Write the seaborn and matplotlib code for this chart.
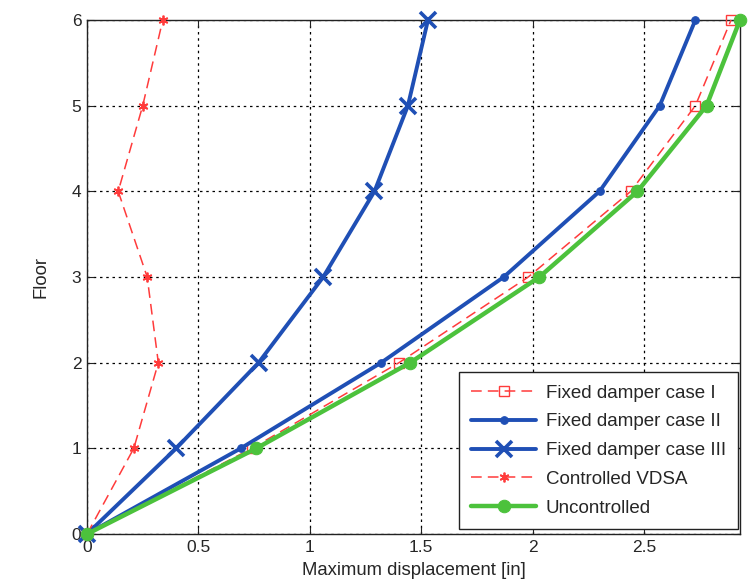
import matplotlib
matplotlib.use("Agg")
import matplotlib.pyplot as plt
import seaborn as sns
import pandas as pd

sns.set_style("white")
plt.rcParams['font.family'] = ['Liberation Sans', 'DejaVu Sans']

floors = [0, 1, 2, 3, 4, 5, 6]
case_I = [0, 0.74, 1.40, 1.98, 2.44, 2.73, 2.89]
case_II = [0, 0.69, 1.32, 1.87, 2.30, 2.57, 2.73]
case_III = [0, 0.40, 0.77, 1.06, 1.29, 1.44, 1.53]
vdsa = [0, 0.21, 0.32, 0.27, 0.14, 0.25, 0.34]
uncontrolled = [0, 0.76, 1.45, 2.03, 2.47, 2.78, 2.93]
x_ticks = [0, 0.5, 1, 1.5, 2, 2.5]
y_ticks = [0, 1, 2, 3, 4, 5, 6]

fig = plt.figure(figsize=(7.52, 5.88), dpi=100)
ax = fig.add_axes([0.1157, 0.0918, 0.8683, 0.8742])

red = '#ff3b3b'
blue = '#1f4fb5'
green = '#4cc23c'

series = [
    ("Fixed damper case I", case_I, dict(color=red, lw=1.1, dashes=(7, 4), marker='s', ms=7,
                                          mfc='none', mec=red, mew=1.0)),
    ("Fixed damper case II", case_II, dict(color=blue, lw=2.8, marker='o', ms=5.5,
                                           mfc=blue, mec=blue)),
    ("Fixed damper case III", case_III, dict(color=blue, lw=2.8, marker='x', ms=11,
                                             mec=blue, mew=2.6)),
    ("Controlled VDSA", vdsa, dict(color=red, lw=1.1, dashes=(7, 4), marker=(6, 2, 0), ms=7,
                                   mfc=red, mec=red, mew=1.3)),
    ("Uncontrolled", uncontrolled, dict(color=green, lw=3.2, marker='o', ms=9,
                                        mfc=green, mec=green)),
]

for name, vals, kw in series:
    df = pd.DataFrame({"disp": vals, "floor": floors})
    dashes = kw.pop('dashes', None)
    sns.lineplot(data=df, x="disp", y="floor", sort=False, estimator=None, ax=ax,
                 label=name, clip_on=False, zorder=3, **kw)
    if dashes is not None:
        ax.lines[-1].set_dashes(dashes)

ax.set_xlim(0, 2.93)
ax.set_ylim(0, 6)
ax.set_xticks(x_ticks)
ax.set_xticklabels(["0", "0.5", "1", "1.5", "2", "2.5"])
ax.set_yticks(y_ticks)
ax.grid(True, color='black', linestyle=(0, (2, 3)), linewidth=0.9)
ax.set_axisbelow(True)
for s in ax.spines.values():
    s.set_color('#222222')
    s.set_linewidth(1.0)
ax.tick_params(axis='both', labelsize=12.5, direction='in', length=5, color='#222222',
               top=True, right=True, bottom=True, left=True, pad=4)
ax.set_xlabel("Maximum displacement [in]", fontsize=13.3, labelpad=5)
ax.set_ylabel("Floor", fontsize=13.3, labelpad=16)

handles, labels = ax.get_legend_handles_labels()
for h in handles:
    if h.get_color() == red:
        h.set_dashes((7, 4))
leg = ax.legend(handles, labels, loc='lower right', fontsize=13.5, frameon=True, fancybox=False,
                edgecolor='#222222', framealpha=1, borderpad=0.65, handlelength=3.5,
                handletextpad=0.5, labelspacing=0.62, bbox_to_anchor=(0.997, 0.01),
                borderaxespad=0)
leg.get_frame().set_linewidth(1.0)
leg.set_zorder(5)

fig.savefig("out.png", dpi=100)
